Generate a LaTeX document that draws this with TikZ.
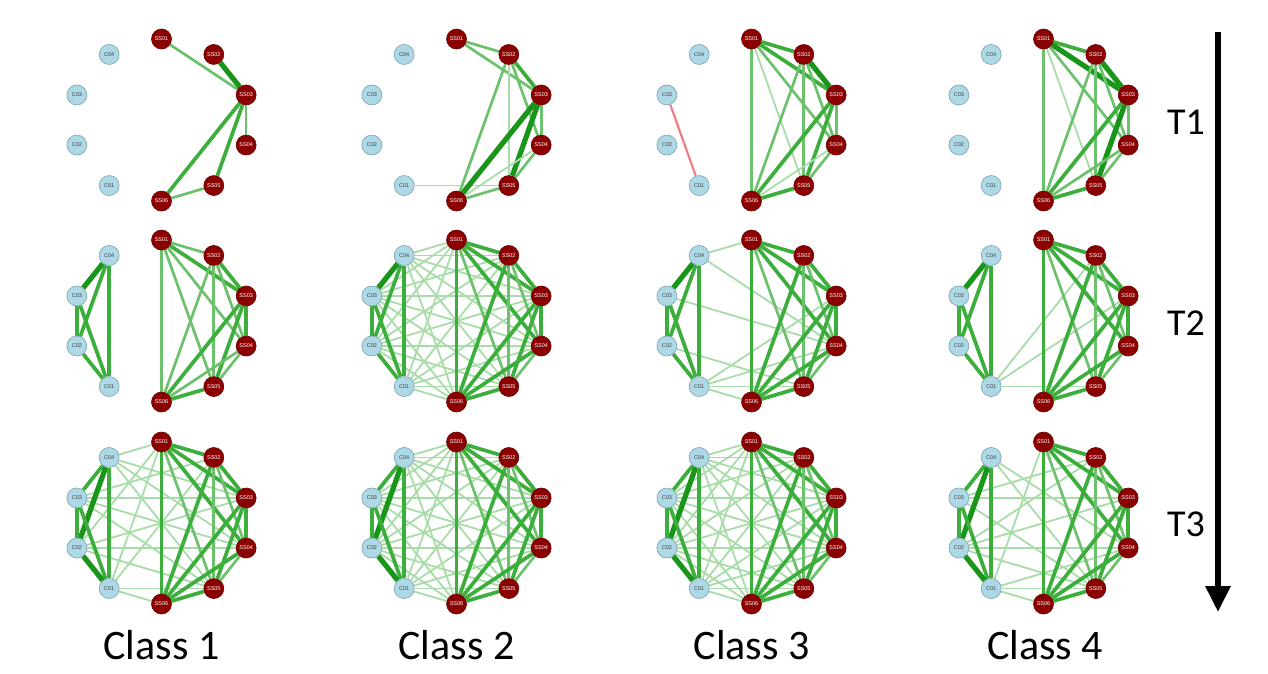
\documentclass[tikz,border=0pt]{standalone}
\usepackage{fontspec}
\setmainfont{Carlito}
\newfontfamily\nodefont{Liberation Sans}
\usetikzlibrary{arrows.meta,backgrounds}
\definecolor{cfill}{RGB}{173,216,230}
\definecolor{cline}{RGB}{125,160,175}
\definecolor{sfill}{RGB}{139,0,0}
\definecolor{sline}{RGB}{105,0,0}
\definecolor{ga}{RGB}{168,220,168}
\definecolor{gb}{RGB}{108,194,108}
\definecolor{gc}{RGB}{60,174,60}
\definecolor{gd}{RGB}{25,150,25}
\definecolor{negc}{RGB}{236,128,128}

\begin{document}
\begin{tikzpicture}[x=1pt,y=-1pt]
  \tikzstyle{cnode} = [circle, fill=cfill, draw=cline, line width=0.6pt, minimum size=20pt, inner sep=0pt, text=black!75, font=\nodefont\fontsize{5.5}{5.5}\selectfont]
  \tikzstyle{snode} = [circle, fill=sfill, draw=sline, line width=0.6pt, minimum size=20pt, inner sep=0pt, text=white, font=\nodefont\fontsize{5.5}{5.5}\selectfont]
  \tikzstyle{e1} = [ga, line width=1.8pt]
  \tikzstyle{e2} = [gb, line width=2.7pt]
  \tikzstyle{e3} = [gc, line width=3.7pt]
  \tikzstyle{e4} = [gd, line width=5.2pt]
  \tikzstyle{neg} = [negc, line width=2.2pt]
  \tikzstyle{classlabel} = [font=\fontsize{42}{48}\selectfont]
  \tikzstyle{timelabel} = [font=\fontsize{38}{44}\selectfont]
  \tikzstyle{timearrow} = [line width=6pt, -{Triangle[width=24pt,length=26pt]}]

  \useasboundingbox (0,0) rectangle (1268,673);

  % nodes of the twelve panels (rows T1..T3, columns Class 1..4)
  \foreach \p/\cx/\cy in {p11/161.5/120, p12/456.5/120, p13/751.5/120, p14/1043.5/120,
                          p21/161.5/321, p22/456.5/321, p23/751.5/321, p24/1043.5/321,
                          p31/161.5/523, p32/456.5/523, p33/751.5/523, p34/1043.5/523}
    \foreach \id/\ang/\lab/\kind in {s1/90/SS01/snode, s2/54/SS02/snode, s3/18/SS03/snode,
                                     s4/-18/SS04/snode, s5/-54/SS05/snode, s6/-90/SS06/snode,
                                     c1/-126/C01/cnode, c2/-162/C02/cnode, c3/162/C03/cnode, c4/126/C04/cnode}
      \node[\kind] (\p\id) at ({\cx+89*cos(\ang)},{\cy-81*sin(\ang)}) {\lab};

  \def\cclist{c4/c3/e4, c4/c2/e3, c4/c1/e3, c3/c2/e3, c3/c1/e3, c2/c1/e3}
  \def\sslist{s1/s2/e3, s1/s3/e3, s1/s4/e3, s1/s5/e2, s1/s6/e3, s2/s3/e3, s2/s4/e2, s2/s5/e2,
              s2/s6/e3, s3/s4/e3, s3/s5/e3, s3/s6/e3, s4/s5/e2, s4/s6/e3, s5/s6/e3}

  \begin{pgfonlayer}{background}
    % weak links between the two groups
    \foreach \p in {p22,p32,p33}
      \foreach \u in {c1,c2,c3,c4}
        \foreach \v in {s1,s2,s3,s4,s5,s6}
          \draw[e1] (\p\u) -- (\p\v);
    \foreach \u/\v in {c1/s5}
      \draw[e1] (p12\u) -- (p12\v);
    \foreach \u/\v in {c4/s1, c4/s4, c3/s4, c2/s5, c1/s3, c1/s4, c1/s5, c1/s6}
      \draw[e1] (p23\u) -- (p23\v);
    \foreach \u/\v in {c1/s2, c1/s3, c1/s5}
      \draw[e1] (p24\u) -- (p24\v);
    \foreach \u/\v in {c4/s1, c4/s3, c4/s4, c4/s5, c3/s2, c3/s3, c3/s4, c3/s5,
                       c2/s1, c2/s3, c2/s4, c2/s5, c1/s1, c1/s2, c1/s5, c1/s6}
      \draw[e1] (p31\u) -- (p31\v);
    \foreach \u/\v in {c4/s4, c4/s5, c3/s2, c3/s3, c3/s5, c2/s2, c2/s3, c2/s4, c2/s5,
                       c1/s1, c1/s4, c1/s5, c1/s6}
      \draw[e1] (p34\u) -- (p34\v);

    % T1
    \foreach \u/\v/\w in {s1/s3/e2, s2/s3/e4, s3/s4/e2, s3/s5/e3, s3/s6/e3, s5/s6/e2}
      \draw[\w] (p11\u) -- (p11\v);
    \foreach \u/\v/\w in {s1/s2/e2, s1/s3/e2, s2/s3/e3, s2/s4/e2, s2/s5/e1, s2/s6/e2, s3/s4/e2,
                          s3/s5/e4, s3/s6/e4, s4/s5/e2, s4/s6/e1, s5/s6/e2}
      \draw[\w] (p12\u) -- (p12\v);
    \draw[neg] (p13c3) -- (p13c1);
    \foreach \u/\v/\w in {s1/s2/e3, s1/s3/e3, s1/s4/e2, s1/s5/e1, s1/s6/e2, s2/s3/e4, s2/s4/e2,
                          s2/s5/e2, s2/s6/e2, s3/s4/e2, s3/s5/e3, s3/s6/e3, s4/s5/e2, s4/s6/e1, s5/s6/e3}
      \draw[\w] (p13\u) -- (p13\v);
    \foreach \u/\v/\w in {s1/s2/e3, s1/s3/e4, s1/s4/e2, s1/s5/e1, s1/s6/e2, s2/s3/e4, s2/s4/e2,
                          s2/s5/e2, s2/s6/e2, s3/s4/e2, s3/s5/e4, s3/s6/e3, s4/s5/e2, s4/s6/e2, s5/s6/e3}
      \draw[\w] (p14\u) -- (p14\v);

    % T2
    \foreach \u/\v/\w in {s1/s2/e2, s1/s3/e3, s1/s4/e2, s1/s5/e2, s1/s6/e2, s2/s3/e3, s2/s4/e2,
                          s2/s5/e2, s2/s6/e2, s3/s4/e3, s3/s5/e3, s3/s6/e3, s4/s5/e2, s4/s6/e2, s5/s6/e3}
      \draw[\w] (p21\u) -- (p21\v);
    \foreach \p in {p22,p23,p24,p31,p32,p33,p34}
      \foreach \u/\v/\w in \sslist
        \draw[\w] (\p\u) -- (\p\v);
    \foreach \p in {p21,p22,p23,p24}
      \foreach \u/\v/\w in \cclist
        \draw[\w] (\p\u) -- (\p\v);

    % T3
    \foreach \p in {p31,p32,p33,p34}
      \foreach \u/\v/\w in {c4/c3/e3, c4/c2/e4, c4/c1/e3, c3/c2/e3, c3/c1/e3, c2/c1/e4}
        \draw[\w] (\p\u) -- (\p\v);
  \end{pgfonlayer}

  % time axis
  \coordinate (tstart) at (1218,32);
  \coordinate (tend) at (1218,612);
  \draw[timearrow] (tstart) -- (tend);
  \node[timelabel] (T1) at (1186,122) {T1};
  \node[timelabel] (T2) at (1186,323) {T2};
  \node[timelabel] (T3) at (1186,524) {T3};

  \node[classlabel] (k1) at (161.5,645) {Class 1};
  \node[classlabel] (k2) at (456.5,645) {Class 2};
  \node[classlabel] (k3) at (751.5,645) {Class 3};
  \node[classlabel] (k4) at (1045,645) {Class 4};
\end{tikzpicture}
\end{document}
